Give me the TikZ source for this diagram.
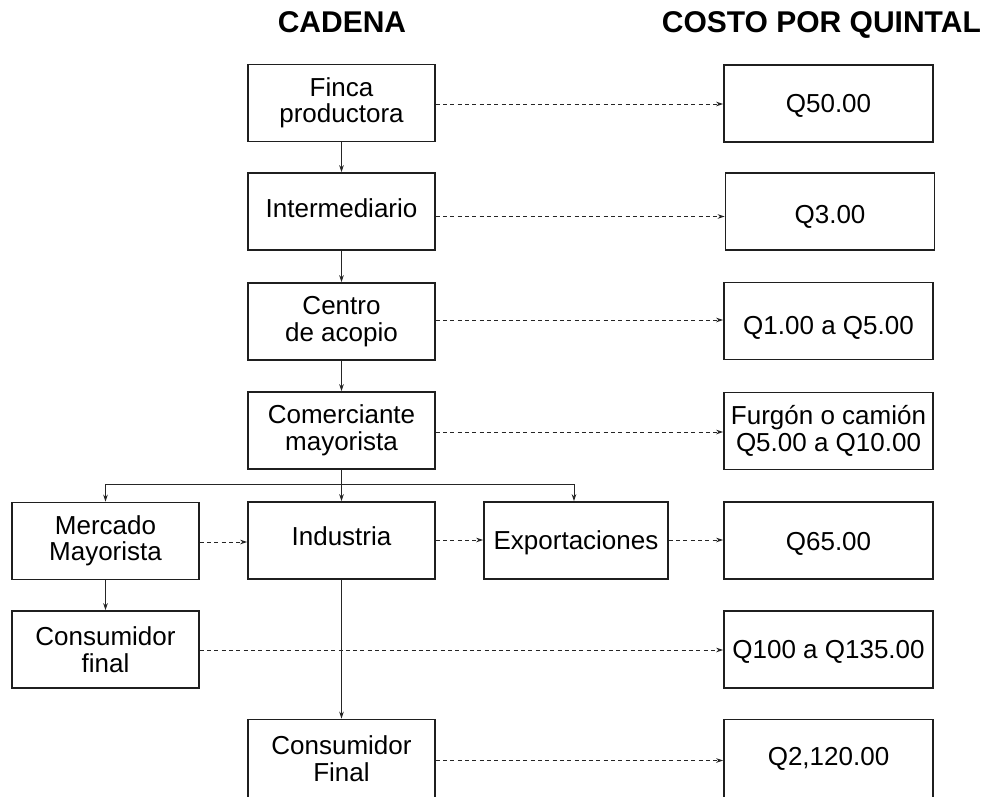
\documentclass[tikz,border=0pt]{standalone}
\usepackage{fontspec}
\setmainfont{Liberation Sans}
\usetikzlibrary{arrows.meta}
\begin{document}
\begin{tikzpicture}[x=1pt,y=-1pt,
  box/.style={draw=black!88, line width=1.6pt, minimum width=187pt, minimum height=77pt,
    align=center, inner sep=2pt, font=\fontsize{26}{26.5}\selectfont},
  rbox/.style={box, minimum width=209pt},
  single/.style={text height=18.6pt, text depth=0pt},
  flow/.style={line width=1pt, draw=black!85, -{Stealth[length=7pt,width=4.5pt]}},
  cost/.style={flow, dash pattern=on 4pt off 3.3pt},
  ttl/.style={font=\fontsize{30}{30}\bfseries\selectfont, inner sep=0pt, text height=21.5pt, text depth=0pt}]
\useasboundingbox (0,0) rectangle (995,796);

% titles
\node[ttl] (tcad) at (342,21.5) {CADENA};
\node[ttl, anchor=east] (tcost) at (981,21.5) {COSTO POR QUINTAL};

% main chain
\node[box] (finca)  at (341.5,103)   {Finca\\productora};
\node[box, single, text depth=7pt] (inter) at (341.5,211.5) {Intermediario};
\node[box] (centro) at (341.5,321.5) {Centro\\de acopio};
\node[box] (comer)  at (341.5,430.5) {Comerciante\\mayorista};
\node[box, single, text depth=9pt] (indus) at (341.5,540.5) {Industria};
\node[box, minimum height=78pt] (consF) at (341.5,758.5) {Consumidor\\Final};

% left column
\node[box] (merc)  at (105.5,541)   {Mercado\\Mayorista};
\node[box] (consf) at (105.5,649.5) {Consumidor\\final};

% exports
\node[box, single, minimum width=184pt] (expo) at (576,540.5) {Exportaciones};

% cost column
\node[rbox, single] (c1) at (828.5,103.5) {Q50.00};
\node[rbox, single, text height=23.6pt] (c2) at (830,211.5) {Q3.00};
\node[rbox, single, text height=26.6pt] (c3) at (828.5,321) {Q1.00 a Q5.00};
\node[rbox] (c4) at (828.5,431)   {Furg\'on o cami\'on\\Q5.00 a Q10.00};
\node[rbox, single, text height=20.6pt] (c5) at (828.5,540.5) {Q65.00};
\node[rbox, single] (c6) at (828.5,649.5) {Q100 a Q135.00};
\node[rbox, single, text depth=4pt, minimum height=78pt] (c7) at (828.5,758.5) {Q2,120.00};

% vertical flow
\draw[flow] (finca) -- (inter);
\draw[flow] (inter) -- (centro);
\draw[flow] (centro) -- (comer);
\coordinate (br) at (341.5,484);
\draw[flow] (comer) -- (indus);
\draw[flow] (br) -| (merc.north);
\draw[flow] (br) -| ([xshift=-2pt]expo.north);
\draw[flow] (merc) -- (consf);
\draw[flow] (indus) -- (consF);

% cost connectors
\draw[cost] (finca.east |- 0,104)   -- (c1.west |- 0,104);
\draw[cost] (inter.east |- 0,216.5) -- (c2.west |- 0,216.5);
\draw[cost] (centro.east |- 0,320)  -- (c3.west |- 0,320);
\draw[cost] (comer.east |- 0,432)   -- (c4.west |- 0,432);
\draw[cost] (merc.east |- 0,542)    -- (indus.west |- 0,542);
\draw[cost] (indus.east |- 0,540)   -- (expo.west |- 0,540);
\draw[cost] (expo.east |- 0,540)    -- (c5.west |- 0,540);
\draw[cost] (consf.east |- 0,650)   -- (c6.west |- 0,650);
\draw[cost] (consF.east |- 0,760.5) -- (c7.west |- 0,760.5);
\end{tikzpicture}
\end{document}
